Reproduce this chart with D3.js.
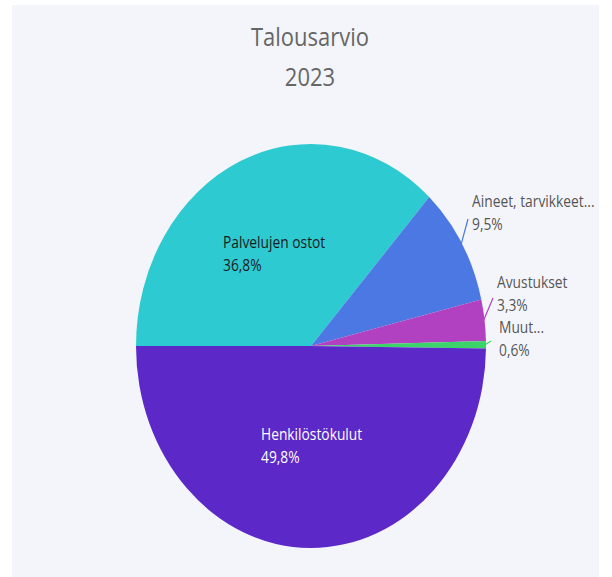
<!DOCTYPE html>
<html>
<head>
<meta charset="utf-8">
<script src="https://cdn.jsdelivr.net/npm/d3@7"></script>
<style>
  body { margin: 0; background: #ffffff; }
  svg { display: block; }
</style>
</head>
<body>
<svg id="chart"></svg>
<script>
// data (drawing order starts at 9 o'clock, clockwise)
const labels = ["Palvelujen ostot", "Aineet, tarvikkeet...", "Avustukset", "Muut...", "Henkilöstökulut"];
const values = [36.8, 9.5, 3.3, 0.6, 49.8];
const valueText = ["36,8%", "9,5%", "3,3%", "0,6%", "49,8%"];
const titleLines = ["Talousarvio", "2023"];

const colors = ["#2ecad2", "#4b78e3", "#b241c1", "#3dd36b", "#5c28c8"];

var widthA = 612, heightA = 577;
var cx = 311, cy = 346;
var rx = 175, ry = 202;
var sy = ry / rx;   // picture is stretched vertically
var fontsize = 13.8;
var font = "'Open Sans', 'Noto Sans', sans-serif";

var svg = d3.select('#chart')
  .attr('width', widthA)
  .attr('height', heightA);

// panel background
svg.append('rect')
  .attr('x', 12).attr('y', 5)
  .attr('width', 587).attr('height', heightA)
  .attr('fill', '#f4f5fa');

var data = labels.map((d, i) => ({ label: d, value: values[i], text: valueText[i], color: colors[i] }));

var pie = d3.pie()
  .sort(null)
  .value(d => d.value)
  .startAngle(-Math.PI / 2)
  .endAngle(3 * Math.PI / 2);

var arcs = pie(data);
var arc = d3.arc().innerRadius(0).outerRadius(rx);

var pieG = svg.append('g')
  .attr('transform', `translate(${cx},${cy}) scale(1,${sy})`);

pieG.selectAll('path.slice')
  .data(arcs)
  .enter()
  .append('path')
  .attr('class', 'slice')
  .attr('d', arc)
  .attr('fill', d => d.data.color);

// edge point of a slice (screen coords)
function edge(d, k) {
  var a = (d.startAngle + d.endAngle) / 2;
  return [cx + rx * k * Math.sin(a), cy - ry * k * Math.cos(a)];
}

//********************* labels
// inside: x,y of first line ; outside: label x,y plus leader line end
var labelPos = [
  { inside: true,  x: 223, y: 248, fill: '#1b1b1b' },
  { inside: false, x: 472, y: 207, lx: 468, ly: 219, fill: '#555' },
  { inside: false, x: 497, y: 288, lx: 493, ly: 298, fill: '#555' },
  { inside: false, x: 499, y: 333, lx: 491, ly: 341, fill: '#555' },
  { inside: true,  x: 261, y: 440, fill: '#ffffff' }
];
var lineGap = 23;

var labG = svg.append('g').attr('class', 'labels');

arcs.forEach((d, i) => {
  var p = labelPos[i];
  if (!p.inside) {
    var e = edge(d, 0.995);
    labG.append('line')
      .attr('x1', e[0]).attr('y1', e[1])
      .attr('x2', p.lx).attr('y2', p.ly)
      .attr('stroke', d.data.color)
      .attr('stroke-width', 1.2);
  }
  [d.data.label, d.data.text].forEach((t, j) => {
    labG.append('text')
      .attr('transform', `translate(${p.x},${p.y + j * lineGap}) scale(1,${sy})`)
      .text(t)
      .attr('fill', p.fill)
      .style('font-size', fontsize + 'px')
      .style('font-family', font);
  });
});

//********************* title
svg.selectAll('.title')
  .data(titleLines)
  .enter()
  .append('text')
  .attr('class', 'title')
  .attr('transform', (d, i) => `translate(310,${46 + i * 40}) scale(1,${sy})`)
  .attr('text-anchor', 'middle')
  .text(d => d)
  .attr('fill', '#666')
  .style('font-size', '22px')
  .style('font-family', font);
</script>
</body>
</html>
